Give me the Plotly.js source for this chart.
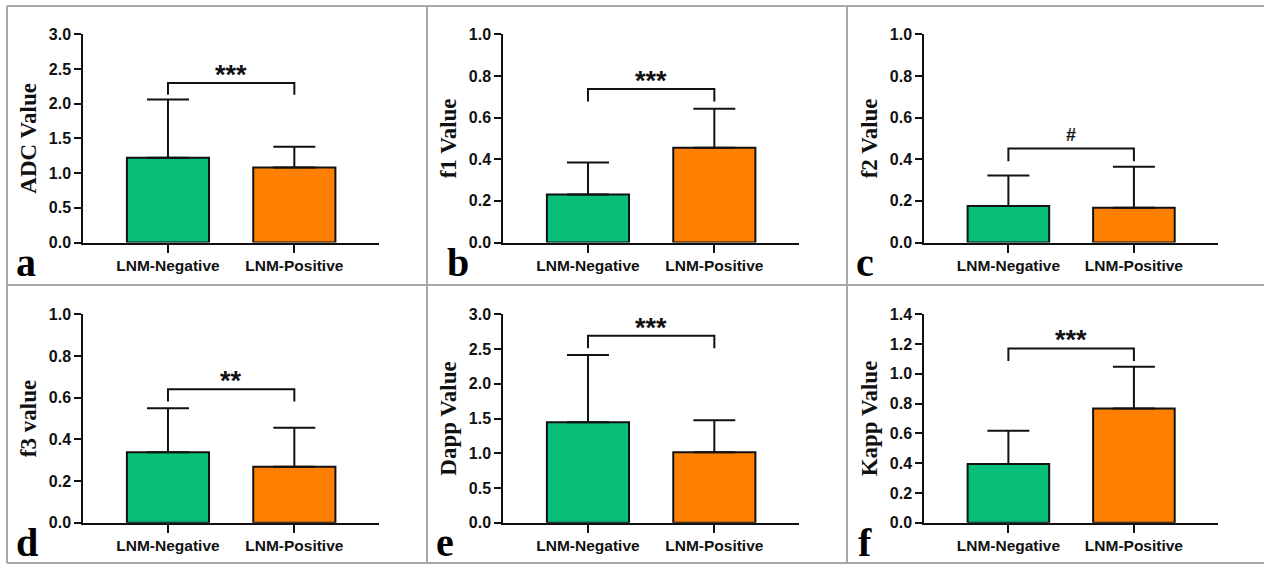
<!DOCTYPE html>
<html>
<head>
<meta charset="utf-8">
<script src="https://cdn.plot.ly/plotly-3.0.1.min.js"></script>
<style>html,body{margin:0;padding:0;background:#fff;}#chart{width:1264px;height:564px;}</style>
</head>
<body>
<div id="chart"></div>
<script>
// ---- data ----
const categories = ['LNM-Negative', 'LNM-Positive'];
const panelLetters = ['a', 'b', 'c', 'd', 'e', 'f'];
const yTitles = ['ADC Value', 'f1 Value', 'f2 Value', 'f3 value', 'Dapp Value', 'Kapp Value'];
const adcMean = [1.22, 1.08],  adcSD = [0.84, 0.30];
const f1Mean = [0.231, 0.455], f1SD = [0.153, 0.188];
const f2Mean = [0.175, 0.167], f2SD = [0.147, 0.197];
const f3Mean = [0.338, 0.269], f3SD = [0.211, 0.187];
const dappMean = [1.445, 1.013], dappSD = [0.969, 0.461];
const kappMean = [0.394, 0.768], kappSD = [0.224, 0.280];
const yMax = [3.0, 1.0, 1.0, 1.0, 3.0, 1.4];
const yDtick = [0.5, 0.2, 0.2, 0.2, 0.5, 0.2];
const sigLabels = ['***', '***', '#', '**', '***', '***'];
const bracketTop = [2.30, 0.737, 0.451, 0.640, 2.69, 1.171];
const bracketLeg = [2.13, 0.677, 0.39, 0.581, 2.51, 1.086];

const means = [adcMean, f1Mean, f2Mean, f3Mean, dappMean, kappMean];
const sds = [adcSD, f1SD, f2SD, f3SD, dappSD, kappSD];

// ---- layout geometry (pixels) ----
const W = 1264, H = 564;
const colX = [[83.3, 379], [503.3, 799], [924.3, 1218]];
const rowY = [[34.3, 242.5], [314.3, 522.7]];
const letterPos = [[14, 287], [445, 287], [854, 287], [14, 567], [434, 567], [856, 567]];
const px = v => v / W;
const py = v => 1 - v / H;

const colors = ['#08BF7A', '#FF8000'];
const traces = [];
const layout = {
  width: W, height: H,
  margin: {l: 0, r: 0, t: 0, b: 0},
  paper_bgcolor: '#ffffff', plot_bgcolor: 'rgba(0,0,0,0)',
  showlegend: false,
  shapes: [], annotations: []
};

for (let i = 0; i < 6; i++) {
  const n = i + 1;
  const xa = 'xaxis' + (n === 1 ? '' : n);
  const ya = 'yaxis' + (n === 1 ? '' : n);
  const xr = 'x' + (n === 1 ? '' : n);
  const yr = 'y' + (n === 1 ? '' : n);
  const col = colX[i % 3], row = rowY[Math.floor(i / 3)];

  traces.push({
    type: 'bar', x: categories, y: means[i], xaxis: xr, yaxis: yr,
    width: 0.65,
    marker: {color: colors, line: {color: '#111', width: 2}},
    error_y: {type: 'data', symmetric: false, array: sds[i], arrayminus: [0, 0],
              color: '#111', thickness: 2, width: 21},
    hoverinfo: 'skip'
  });

  layout[xa] = {
    domain: [px(col[0]), px(col[1])], anchor: yr, type: 'category',
    range: [-0.67, 1.67], fixedrange: true,
    showline: true, linecolor: '#111', linewidth: 2,
    ticks: 'outside', ticklen: 8, tickwidth: 2, tickcolor: '#111',
    showgrid: false, zeroline: false,
    tickfont: {family: 'Liberation Sans, Arial, sans-serif', size: 15.5, color: '#111', weight: 'bold'}
  };
  layout[ya] = {
    domain: [py(row[1]), py(row[0])], anchor: xr,
    range: [0, yMax[i]], dtick: yDtick[i], tick0: 0, tickformat: '.1f', fixedrange: true,
    showline: true, linecolor: '#111', linewidth: 2,
    ticks: 'outside', ticklen: 7, tickwidth: 2, tickcolor: '#111',
    showgrid: false, zeroline: false,
    tickfont: {family: 'Liberation Sans, Arial, sans-serif', size: 16, color: '#111', weight: 'bold'},
    title: {text: yTitles[i], standoff: 6,
            font: {family: 'Liberation Serif, Times New Roman, serif', size: 23, color: '#111', weight: 'bold'}}
  };

  layout.shapes.push({
    type: 'path', xref: xr, yref: yr,
    path: `M 0,${bracketLeg[i]} L 0,${bracketTop[i]} L 1,${bracketTop[i]} L 1,${bracketLeg[i]}`,
    line: {color: '#111', width: 2}
  });
  const isHash = sigLabels[i] === '#';
  layout.annotations.push({
    xref: xr, yref: yr, x: 0.5, y: bracketTop[i], text: sigLabels[i],
    showarrow: false, xanchor: 'center', yanchor: 'bottom',
    yshift: isHash ? 2 : -9,
    font: {family: 'Liberation Sans, Arial, sans-serif', size: isHash ? 18 : 27, color: '#111', weight: 'bold'}
  });
  layout.annotations.push({
    xref: 'paper', yref: 'paper', x: px(letterPos[i][0]), y: py(letterPos[i][1]),
    xanchor: 'left', yanchor: 'bottom', showarrow: false, text: panelLetters[i],
    font: {family: 'Liberation Serif, Times New Roman, serif', size: 40, color: '#000', weight: 'bold'}
  });
}

// panel frame lines
const gray = '#a8a8a8';
const frame = [
  [7, 6, W, 6], [7, 285, W, 285], [7, 563, W, 563],
  [7, 6, 7, 563], [427, 6, 427, 563], [847, 6, 847, 563]
];
frame.forEach(f => layout.shapes.push({
  type: 'line', xref: 'paper', yref: 'paper',
  x0: px(f[0]), y0: py(f[1]), x1: px(f[2]), y1: py(f[3]),
  line: {color: gray, width: 2}, layer: 'below'
}));

Plotly.newPlot('chart', traces, layout, {staticPlot: true, displayModeBar: false});
</script>
</body>
</html>
